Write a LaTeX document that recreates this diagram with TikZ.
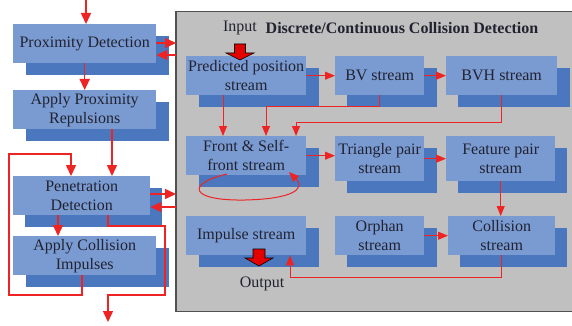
\documentclass[tikz,border=0pt]{standalone}
\usepackage{fontspec}
\setmainfont{Liberation Serif}
\usetikzlibrary{arrows.meta}
\definecolor{boxfront}{HTML}{7A9BD2}
\definecolor{boxshadow}{HTML}{4A77BD}
\definecolor{panelgray}{HTML}{C0C0C0}
\definecolor{panelline}{HTML}{505050}
\definecolor{txt}{HTML}{222230}
\definecolor{arrred}{HTML}{EE2424}
\begin{document}
\begin{tikzpicture}[x=1pt,y=-1pt,
  fbox/.style={fill=boxfront, text=txt, inner sep=0pt, anchor=north west, align=center, font=\fontsize{16}{19}\selectfont},
  sbox/.style={fill=boxshadow, inner sep=0pt, anchor=north west},
  panelbox/.style={fill=panelgray, draw=panelline, line width=1.2pt, inner sep=0pt, anchor=north west},
  lab/.style={text=txt, inner sep=0pt, font=\fontsize{16}{19}\selectfont},
  bigarrow/.style={draw=arrred, line width=1.5pt, -{Triangle[length=11pt,width=10pt]}},
  smallarrow/.style={draw=arrred, line width=1pt, -{Triangle[length=10pt,width=8pt]}},
  blockarrow/.style={fill=red!90!black, draw=black, line width=0.6pt, line join=miter}
]
\useasboundingbox (0,0) rectangle (572,326);
\fill[white] (0,0) rectangle (572,326);

% panel
\node[panelbox, minimum width=420pt, minimum height=300pt] (panel) at (176,11) {};
\draw[panelline, line width=2.2pt] (panel.north west) -- (panel.south west);
\node[lab, font=\fontsize{16}{19}\selectfont\bfseries] (title) at (402,28) {Discrete/Continuous Collision Detection};
\node[lab] (inlab) at (240,28) {Input};
\node[lab] (outlab) at (262,284) {Output};

% left column shadows
\node[sbox, minimum width=143pt, minimum height=39pt] (pds) at (26,36) {};
\node[sbox, minimum width=143pt, minimum height=39pt] (aprs) at (26,102) {};
\node[sbox, minimum width=137pt, minimum height=39pt] (pens) at (25,188) {};
\node[sbox, minimum width=143pt, minimum height=39pt] (acis) at (26,248) {};
% left column boxes
\node[fbox, minimum width=143pt, minimum height=39pt] (pd) at (13,24) {Proximity Detection};
\node[fbox, minimum width=143pt, minimum height=39pt] (apr) at (13,90) {Apply Proximity\\Repulsions};
\node[fbox, minimum width=137pt, minimum height=39pt] (pen) at (13,176) {Penetration\\Detection};
\node[fbox, minimum width=143pt, minimum height=39pt] (aci) at (13,236) {Apply Collision\\Impulses};

% right shadows
\node[sbox, minimum width=120pt, minimum height=39pt] (preds) at (199,68) {};
\node[sbox, minimum width=90pt, minimum height=39pt] (bvs) at (347,68) {};
\node[sbox, minimum width=112pt, minimum height=39pt] (bvhs) at (458,68) {};
\node[sbox, minimum width=120pt, minimum height=39pt] (fronts) at (199,148) {};
\node[sbox, minimum width=90pt, minimum height=45pt] (tris) at (347,148) {};
\node[sbox, minimum width=109pt, minimum height=45pt] (feats) at (458,148) {};
\node[sbox, minimum width=120pt, minimum height=39pt] (imps) at (199,228) {};
\node[sbox, minimum width=90pt, minimum height=39pt] (orphs) at (347,228) {};
\node[sbox, minimum width=107pt, minimum height=39pt] (colls) at (460,228) {};
% right boxes
\node[fbox, minimum width=120pt, minimum height=39pt] (pred) at (186,56) {Predicted position\\stream};
\node[fbox, minimum width=89pt, minimum height=39pt] (bv) at (335,56) {BV stream};
\node[fbox, minimum width=111pt, minimum height=39pt] (bvh) at (446,56) {BVH stream};
\node[fbox, minimum width=120pt, minimum height=39pt] (front) at (186,136) {Front \& Self-\\front stream};
\node[fbox, minimum width=89pt, minimum height=45pt] (tri) at (335,136) {Triangle pair\\stream};
\node[fbox, minimum width=109pt, minimum height=45pt] (feat) at (446,136) {Feature pair\\stream};
\node[fbox, minimum width=120pt, minimum height=39pt] (imp) at (186,216) {Impulse stream};
\node[fbox, minimum width=89pt, minimum height=39pt] (orph) at (335,216) {Orphan\\stream};
\node[fbox, minimum width=107pt, minimum height=39pt] (coll) at (448,216) {Collision\\stream};

% helper coordinates
\coordinate (topin) at (86,0);
\coordinate (c58) at (58,0);
\coordinate (c108) at (108,0);
\coordinate (c112) at (112,0);
\coordinate (lp1) at (9,295);
\coordinate (lp2) at (71,154);
\coordinate (o1) at (165,226);
\coordinate (o2) at (108,295);
\coordinate (outend) at (108,322);
\coordinate (r43) at (0,43);
\coordinate (r55) at (0,55);
\coordinate (r194) at (0,194);
\coordinate (r207) at (0,207);
\coordinate (c223) at (223,0);
\coordinate (b1) at (266,107);
\coordinate (b2) at (296,122);
\coordinate (b3) at (290,277);
\coordinate (ls) at (227,174);
\coordinate (le) at (289,172);

% left arrows
\draw[bigarrow] (topin) -- (topin |- pd.north);
\draw[bigarrow] (pd.south) -- (apr.north);
\draw[bigarrow] (c112 |- apr.south) -- (c112 |- pen.north);
\draw[bigarrow] (c58 |- pen.south) -- (c58 |- aci.north);
\draw[bigarrow] ([xshift=-2.5pt]aci.south) |- (lp1) |- (lp2) -- (lp2 |- pen.north);
\draw[bigarrow] (c108 |- pen.south) |- (o1) |- (o2) -- (outend);
\draw[bigarrow] (r43 -| pd.east) -- (r43 -| panel.west);
\draw[bigarrow] (r55 -| panel.west) -- (r55 -| pd.east);
\draw[bigarrow] (r194 -| pen.east) -- (r194 -| panel.west);
\draw[bigarrow] (r207 -| panel.west) -- (r207 -| pen.east);

% right arrows
\draw[smallarrow] (pred.east) -- (bv.west);
\draw[smallarrow] (bv.east) -- (bvh.west);
\draw[smallarrow] (c223 |- pred.south) -- (c223 |- front.north);
\draw[smallarrow] (bv.south) |- (b1) -- (b1 |- front.north);
\draw[smallarrow] (bvh.south) |- (b2) -- (b2 |- front.north);
\draw[smallarrow] (front.east) -- (front.east -| tri.west);
\draw[smallarrow] (tri.east) -- (tri.east -| feat.west);
\draw[smallarrow] (feat.south) -- (feat.south |- coll.north);
\draw[smallarrow] (orph.east) -- (coll.west);
\draw[smallarrow] (coll.south) |- (b3) -- (b3 |- imp.south);
\draw[smallarrow] (ls) .. controls (185,184) and (190,201) .. (245,200) .. controls (292,199) and (306,189) .. (le);

% block arrows (input / output)
\draw[blockarrow] (234.5,44) -- (245.5,44) -- (245.5,53) -- (254,53) -- (240,60) -- (226,53) -- (234.5,53) -- cycle;
\draw[blockarrow] (253,249) -- (265,249) -- (265,258) -- (273,258) -- (259,266) -- (245,258) -- (253,258) -- cycle;
\end{tikzpicture}
\end{document}
